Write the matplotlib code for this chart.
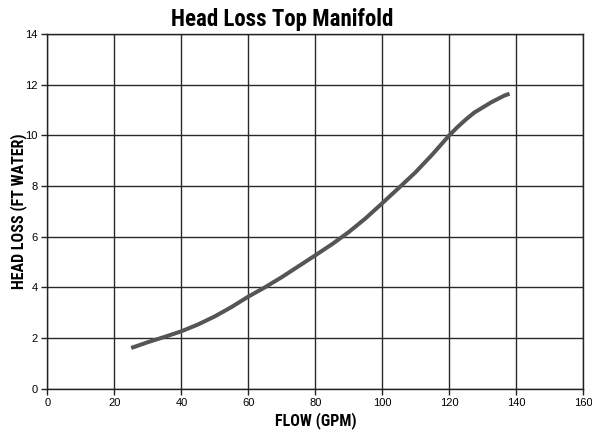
import matplotlib.pyplot as plt

# Head loss curve for the top manifold
flow_gpm = [25, 30, 35, 40, 45, 50, 55, 60, 65, 70, 75, 80, 85, 90, 95, 100,
            105, 110, 115, 120, 122.5, 125, 127.5, 130, 132.5, 135, 136.5, 138]
head_loss_ft = [1.6, 1.83, 2.04, 2.26, 2.53, 2.85, 3.22, 3.63, 4.0, 4.4, 4.83, 5.26, 5.7, 6.18, 6.72, 7.32,
                7.93, 8.55, 9.25, 10.0, 10.33, 10.63, 10.9, 11.1, 11.3, 11.47, 11.57, 11.64]

x_ticks = list(range(0, 161, 20))
y_ticks = list(range(0, 15, 2))

plt.rcParams["font.family"] = ["Liberation Sans", "DejaVu Sans"]
cond = ["Roboto Condensed", "DejaVu Sans"]

fig = plt.figure(figsize=(5.92, 4.30), dpi=100)
ax = fig.add_axes([0.0802, 0.0965, 0.905, 0.8245])

ax.plot(flow_gpm, head_loss_ft, color="#555555", lw=2.9,
        solid_capstyle="butt", solid_joinstyle="round", zorder=3)

ax.set_xlim(0, 160)
ax.set_ylim(0, 14)
ax.set_xticks(x_ticks)
ax.set_yticks(y_ticks)
ax.grid(True, color="#2a2a2a", lw=1.0)
ax.tick_params(labelsize=8, length=4, width=1, color="#222222", pad=3)
for s in ax.spines.values():
    s.set_color("#222222")
    s.set_linewidth(1.0)

ax.set_xlabel("FLOW (GPM)", family=cond, weight="bold", fontsize=11.5, labelpad=3)
ax.set_ylabel("HEAD LOSS (FT WATER)", family=cond, weight="bold", fontsize=11.5, labelpad=-1)
fig.text(0.476, 0.955, "Head Loss Top Manifold", family=cond, weight="bold",
         fontsize=16.5, ha="center", va="center")

fig.savefig("out.png", dpi=100)
